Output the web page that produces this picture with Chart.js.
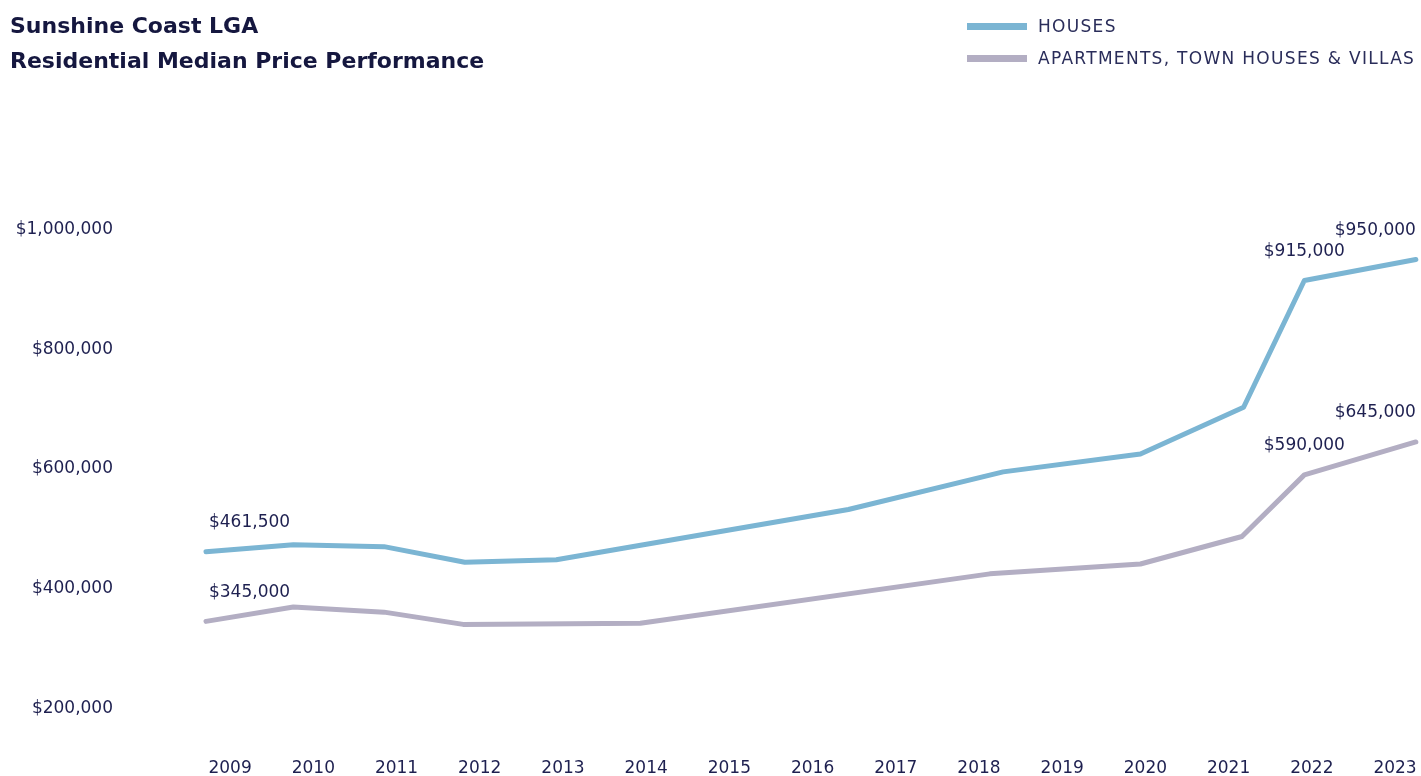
<!DOCTYPE html>
<html>
<head>
<meta charset="utf-8">
<script src="https://cdn.jsdelivr.net/npm/chart.js@4"></script>
<style>
  html, body { margin: 0; padding: 0; background: #fff; }
  #wrap { position: relative; width: 1421px; height: 776px; }
  #title {
    position: absolute; left: 10px; top: 8px;
    font-family: "DejaVu Sans", sans-serif; font-weight: bold;
    font-size: 22px; line-height: 35px; color: #15173f;
  }
  #legend {
    position: absolute; left: 967px; top: 10px;
    font-family: "DejaVu Sans", sans-serif; font-size: 17px; color: #2a2d5a;
    letter-spacing: 1.3px;
  }
  .row { display: flex; align-items: center; height: 32px; white-space: nowrap; }
  .swatch { width: 60px; height: 7px; margin-right: 11px; }
</style>
</head>
<body>
<div id="wrap">
  <canvas id="priceChart"></canvas>
  <div id="title">Sunshine Coast LGA<br>Residential Median Price Performance</div>
  <div id="legend"></div>
</div>
<script>
// Data (x = position along the year axis)
const yearTicks = [2009, 2010, 2011, 2012, 2013, 2014, 2015, 2016, 2017, 2018, 2019, 2020, 2021, 2022, 2023];
const valueTicks = [200000, 400000, 600000, 800000, 1000000];

const houseYears  = [2008.71, 2009.76, 2010.85, 2011.82, 2012.92, 2016.43, 2018.29, 2019.94, 2021.18, 2021.91, 2023.25];
const houseValues = [461500, 473000, 470000, 444000, 448000, 532000, 595000, 625000, 703000, 915000, 950000];
const houseLabelIdx = [0, 9, 10];

const aptYears  = [2008.71, 2009.76, 2010.85, 2011.80, 2013.93, 2018.13, 2019.94, 2021.16, 2021.91, 2023.25];
const aptValues = [345000, 369000, 360500, 340000, 342000, 424500, 441000, 487000, 590000, 645000];
const aptLabelIdx = [0, 8, 9];

const seriesNames = ['HOUSES', 'APARTMENTS, TOWN HOUSES & VILLAS'];
const seriesColors = ['#7bb5d3', '#b3aec3'];

const textColor = '#1e2050';
const money = v => '$' + Number(v).toLocaleString('en-US');

// simple value labels above chosen points
const pointLabels = {
  id: 'pointLabels',
  afterDatasetsDraw(chart) {
    const ctx = chart.ctx;
    ctx.save();
    ctx.font = '17px "DejaVu Sans", sans-serif';
    ctx.fillStyle = textColor;
    ctx.textBaseline = 'middle';
    chart.data.datasets.forEach((ds, di) => {
      const meta = chart.getDatasetMeta(di);
      ds.labelIdx.forEach(i => {
        const pt = meta.data[i];
        let x = pt.x;
        if (i === 0) { ctx.textAlign = 'left'; x += 3; }
        else if (i === ds.data.length - 1) { ctx.textAlign = 'right'; }
        else { ctx.textAlign = 'center'; }
        ctx.fillText(money(ds.data[i].y), x, pt.y - 29);
      });
    });
    ctx.restore();
  }
};

const toPoints = (xs, ys) => xs.map((x, i) => ({ x: x, y: ys[i] }));

// invisible tick marks used as the gap between labels and plot
const hiddenTicks = len => ({ display: true, drawOnChartArea: false, drawTicks: true, tickLength: len, color: 'rgba(0,0,0,0)' });

const chart = new Chart(document.getElementById('priceChart').getContext('2d'), {
  type: 'line',
  data: {
    datasets: [
      { label: seriesNames[0], data: toPoints(houseYears, houseValues), labelIdx: houseLabelIdx,
        borderColor: seriesColors[0], backgroundColor: seriesColors[0] },
      { label: seriesNames[1], data: toPoints(aptYears, aptValues), labelIdx: aptLabelIdx,
        borderColor: seriesColors[1], backgroundColor: seriesColors[1] }
    ]
  },
  options: {
    responsive: true,
    maintainAspectRatio: false,
    animation: false,
    layout: { padding: { top: 110, right: 1, bottom: 0, left: 0 } },
    elements: {
      line: { borderWidth: 5, tension: 0, borderCapStyle: 'round', borderJoinStyle: 'round', fill: false },
      point: { radius: 0, hoverRadius: 0 }
    },
    clip: false,
    plugins: { legend: { display: false }, tooltip: { enabled: false } },
    scales: {
      x: {
        type: 'linear', min: 2008.65, max: 2023.3,
        afterBuildTicks: s => { s.ticks = yearTicks.map(v => ({ value: v })); },
        afterFit: s => { s.height = 26; },
        grid: hiddenTicks(8), border: { display: false },
        ticks: { padding: 0, color: textColor, font: { family: 'DejaVu Sans', size: 17 },
                 maxRotation: 0, autoSkip: false, callback: v => String(v) }
      },
      y: {
        min: 130000, max: 1200000,
        afterBuildTicks: s => { s.ticks = valueTicks.map(v => ({ value: v })); },
        afterFit: s => { s.width = 201; },
        grid: hiddenTicks(88), border: { display: false },
        ticks: { padding: 0, color: textColor, font: { family: 'DejaVu Sans', size: 17 },
                 callback: v => money(v) }
      }
    }
  },
  plugins: [pointLabels]
});

// legend built from the datasets
const legendEl = document.getElementById('legend');
chart.data.datasets.forEach(ds => {
  const row = document.createElement('div');
  row.className = 'row';
  row.innerHTML = '<span class="swatch" style="background:' + ds.borderColor + '"></span><span>' + ds.label + '</span>';
  legendEl.appendChild(row);
});
</script>
</body>
</html>
